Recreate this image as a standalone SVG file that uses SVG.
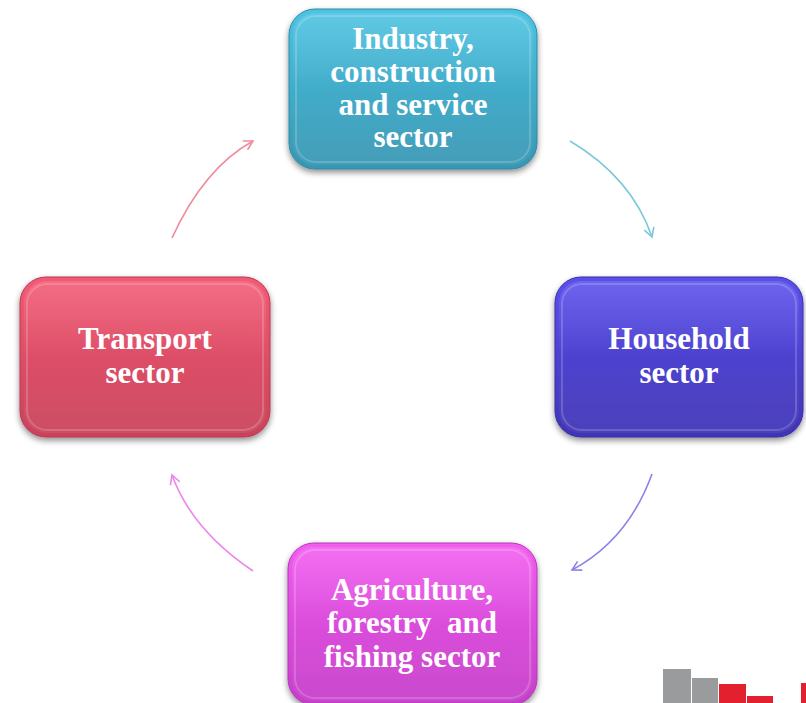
<svg xmlns="http://www.w3.org/2000/svg" width="806" height="703" viewBox="0 0 806 703">
<defs>
<linearGradient id="gTop" x1="0" y1="0" x2="0" y2="1"><stop offset="0" stop-color="#4cc3e2"/><stop offset="1" stop-color="#3896b2"/></linearGradient>
<linearGradient id="gHouse" x1="0" y1="0" x2="0" y2="1"><stop offset="0" stop-color="#5a50ec"/><stop offset="1" stop-color="#4034b4"/></linearGradient>
<linearGradient id="gTrans" x1="0" y1="0" x2="0" y2="1"><stop offset="0" stop-color="#f25a74"/><stop offset="1" stop-color="#c9425a"/></linearGradient>
<linearGradient id="gAgri" x1="0" y1="0" x2="0" y2="1"><stop offset="0" stop-color="#f25cf0"/><stop offset="1" stop-color="#c43ec8"/></linearGradient>
<linearGradient id="gloss" x1="0" y1="0" x2="0" y2="1"><stop offset="0" stop-color="#ffffff" stop-opacity="0.12"/><stop offset="0.5" stop-color="#ffffff" stop-opacity="0"/><stop offset="1" stop-color="#ffffff" stop-opacity="0.06"/></linearGradient>
<filter id="shadow" x="-10%" y="-10%" width="120%" height="125%"><feGaussianBlur in="SourceAlpha" stdDeviation="3"/><feOffset dx="0" dy="3"/><feComponentTransfer><feFuncA type="linear" slope="0.45"/></feComponentTransfer><feMerge><feMergeNode/><feMergeNode in="SourceGraphic"/></feMerge></filter>
<marker id="ahBlue" viewBox="0 0 12 12" refX="10" refY="6" markerWidth="12" markerHeight="12" markerUnits="userSpaceOnUse" orient="auto"><path d="M1,1 L10,6 L1,11" fill="none" stroke="#7cc7dc" stroke-width="1.6"/></marker>
<marker id="ahPurple" viewBox="0 0 12 12" refX="10" refY="6" markerWidth="12" markerHeight="12" markerUnits="userSpaceOnUse" orient="auto"><path d="M1,1 L10,6 L1,11" fill="none" stroke="#8b84e6" stroke-width="1.6"/></marker>
<marker id="ahPink" viewBox="0 0 12 12" refX="10" refY="6" markerWidth="12" markerHeight="12" markerUnits="userSpaceOnUse" orient="auto"><path d="M1,1 L10,6 L1,11" fill="none" stroke="#ec86ea" stroke-width="1.6"/></marker>
<marker id="ahRed" viewBox="0 0 12 12" refX="10" refY="6" markerWidth="12" markerHeight="12" markerUnits="userSpaceOnUse" orient="auto"><path d="M1,1 L10,6 L1,11" fill="none" stroke="#f08c9c" stroke-width="1.6"/></marker>
</defs>
<style>
.lbl{font-family:"Liberation Serif","Times New Roman",serif;font-weight:bold;font-size:31px;fill:#ffffff;text-anchor:middle}
.box{stroke-width:1}
.hl{fill:none;stroke:#ffffff;stroke-opacity:0.18;stroke-width:2}
.gl{fill:url(#gloss)}
.conn{fill:none;stroke-width:1.6}
</style>
<rect width="806" height="703" fill="#ffffff"/>
<g id="connectors">
<path class="conn" d="M570,141 Q632,178 652,237" stroke="#7cc7dc" marker-end="url(#ahBlue)"/>
<path class="conn" d="M652,474 Q628,540 572,570" stroke="#8b84e6" marker-end="url(#ahPurple)"/>
<path class="conn" d="M253,571 Q192,530 172,475" stroke="#ec86ea" marker-end="url(#ahPink)"/>
<path class="conn" d="M172,238 Q204,168 253,141" stroke="#f08c9c" marker-end="url(#ahRed)"/>
</g>
<g id="node-industry">
<rect class="box" x="289" y="9" width="248" height="160" rx="26" fill="url(#gTop)" stroke="#2f8aa4" filter="url(#shadow)"/>
<rect class="gl" x="293" y="13" width="240" height="152" rx="22"/>
<rect class="hl" x="296" y="16" width="234" height="146" rx="20"/>
<text class="lbl" x="413" y="49">Industry,</text>
<text class="lbl" x="413" y="82">construction</text>
<text class="lbl" x="413" y="115">and service</text>
<text class="lbl" x="413" y="147">sector</text>
</g>
<g id="node-household">
<rect class="box" x="555" y="277" width="248" height="160" rx="26" fill="url(#gHouse)" stroke="#3a2fa6" filter="url(#shadow)"/>
<rect class="gl" x="559" y="281" width="240" height="152" rx="22"/>
<rect class="hl" x="562" y="284" width="234" height="146" rx="20"/>
<text class="lbl" x="679" y="349">Household</text>
<text class="lbl" x="679" y="383">sector</text>
</g>
<g id="node-transport">
<rect class="box" x="20" y="277" width="250" height="160" rx="26" fill="url(#gTrans)" stroke="#b83a52" filter="url(#shadow)"/>
<rect class="gl" x="24" y="281" width="242" height="152" rx="22"/>
<rect class="hl" x="27" y="284" width="236" height="146" rx="20"/>
<text class="lbl" x="145" y="349">Transport</text>
<text class="lbl" x="145" y="383">sector</text>
</g>
<g id="node-agriculture">
<rect class="box" x="288" y="543" width="249" height="162" rx="26" fill="url(#gAgri)" stroke="#b238b6" filter="url(#shadow)"/>
<rect class="gl" x="292" y="547" width="241" height="154" rx="22"/>
<rect class="hl" x="295" y="550" width="235" height="148" rx="20"/>
<text class="lbl" x="412" y="600">Agriculture,</text>
<text class="lbl" x="412" y="633" xml:space="preserve">forestry  and</text>
<text class="lbl" x="412" y="667">fishing sector</text>
</g>
<g id="logo">
<rect x="663" y="669" width="28" height="34" fill="#9a9b9d"/>
<rect x="692" y="678" width="26" height="25" fill="#9a9b9d"/>
<rect x="719" y="684" width="27" height="19" fill="#e3202e"/>
<rect x="747" y="696" width="26" height="7" fill="#e3202e"/>
<rect x="801" y="683" width="5" height="20" fill="#e3202e"/>
</g>
</svg>
